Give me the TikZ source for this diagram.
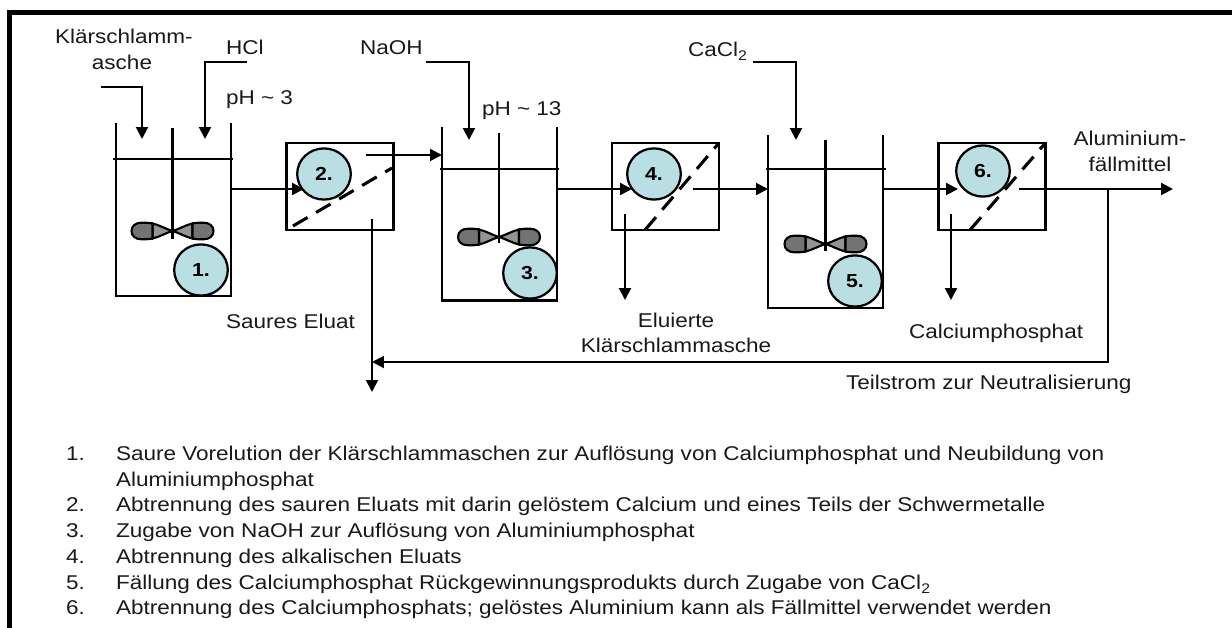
\documentclass[tikz,border=0pt]{standalone}
\usepackage{fontspec}
\setmainfont[FakeStretch=1.13]{Liberation Sans}
\usetikzlibrary{arrows.meta, shapes.geometric, positioning, calc}
\definecolor{stepblue}{HTML}{B9DFE3}

\begin{document}
\begin{tikzpicture}[
    x=0.025cm, y=-0.025cm,
    txt/.style={anchor=base west, inner sep=0pt, outer sep=0pt, text=black!90, font=\fontsize{14.18}{19}\selectfont},
    ctxt/.style={txt, anchor=base},
    tank/.style={rectangle, inner sep=0pt, outer sep=0pt, minimum width=2.875cm, minimum height=4.325cm},
    filter/.style={rectangle, draw=black, line width=1.6pt, inner sep=0pt, outer sep=0pt, minimum width=2.67cm, minimum height=2.175cm},
    stepno/.style={ellipse, draw=black, line width=1.6pt, fill=stepblue, minimum width=1.34cm, minimum height=1.28cm, inner sep=0pt, font=\fontsize{13.4}{15}\selectfont\bfseries},
    wall/.style={line width=1.8pt},
    level/.style={line width=1.2pt},
    membrane/.style={line width=2.2pt, dash pattern=on 12pt off 7pt},
    arrow/.style={line width=1.45pt, -{Triangle[length=8.5pt,width=8.5pt]}},
    blade/.pic={
        \draw[line width=1.5pt, fill=black!42] (0,0) .. controls (-7,-2) and (-13,-6) .. (-20,-7.5) -- (-20,7.5) .. controls (-13,6) and (-7,2) .. (0,0);
        \draw[line width=1.5pt, fill=black!55] (-20,-7.5) .. controls (-24,-8.3) and (-27,-8.3) .. (-31,-8.3) .. controls (-37,-8.3) and (-41,-5) .. (-41,0) .. controls (-41,5) and (-37,8.3) .. (-31,8.3) .. controls (-27,8.3) and (-24,8.3) .. (-20,7.5) -- cycle;
    }
]
\useasboundingbox (0,0) rectangle (1232,628);

% Frame
\coordinate (frame_corner) at (9.8,12.5);
\draw[line width=3.55pt] (1232,12.5) -- (frame_corner) -- (9.8,628);

% Tanks
\node[tank] (tank1) at (173.5,209.5) {};
\node[tank] (tank3) at (499.5,214) {};
\node[tank] (tank5) at (825.5,221.5) {};
\draw[wall] (tank1.north west) -- (tank1.south west) -- (tank1.south east) -- (tank1.north east);
\draw[wall] (tank3.north west) -- (tank3.south west) -- (tank3.south east) -- (tank3.north east);
\draw[wall] (tank5.north west) -- (tank5.south west) -- (tank5.south east) -- (tank5.north east);

% Liquid levels
\draw[level] ($(tank1.west |- 0,159)+(-3,0)$) -- ($(tank1.east |- 0,159)+(2,0)$);
\draw[level] ($(tank3.west |- 0,169)+(-2,0)$) -- ($(tank3.east |- 0,169)+(2,0)$);
\draw[level] ($(tank5.west |- 0,169)+(-2,0)$) -- ($(tank5.east |- 0,169)+(3,0)$);

% Stirrers
\pic at (172.5,231) {blade};
\pic[xscale=-1] at (172.5,231) {blade};
\pic at (499,237) {blade};
\pic[xscale=-1] at (499,237) {blade};
\pic at (825.5,244) {blade};
\pic[xscale=-1] at (825.5,244) {blade};
\draw[wall] (172.5,128) -- (172.5,239);
\draw[wall] (499,133) -- (499,243);
\draw[wall] (825.5,140) -- (825.5,251);

% Filters
\node[filter] (filter2) at (340,186.5) {};
\node[filter] (filter4) at (665.5,186.5) {};
\node[filter] (filter6) at (992,186.5) {};
\coordinate (mem2a) at (293,226);
\coordinate (mem2b) at (392,168);
\coordinate (mem4) at (645,230);
\coordinate (mem6) at (970,230);
\draw[membrane] (mem2a) -- (mem2b);
\draw[membrane] (mem4) -- (filter4.north east);
\draw[membrane] (mem6) -- (filter6.north east);

% Feeds
\node[txt] (sludge) at (55,44) {Klärschlamm-};
\node[ctxt] (sludge2) at (122,70) {asche};
\node[txt] (hcl) at (226,55) {HCl};
\node[txt] (naoh) at (360,55) {NaOH};
\node[txt] (cacl) at (688,57) {CaCl\textsubscript{2}};
\node[txt] (ph3) at (226,105) {pH \textasciitilde{} 3};
\node[txt] (ph13) at (482,116) {pH \textasciitilde{} 13};
\coordinate (sludge_start) at (101,87);
\coordinate (sludge_in) at (142,139);
\coordinate (hcl_start) at (247,62);
\coordinate (hcl_in) at (205,139);
\coordinate (naoh_start) at (426,62);
\coordinate (naoh_in) at (469,140);
\coordinate (cacl_start) at (753,62);
\coordinate (cacl_in) at (796,140);
\draw[arrow] (sludge_start) -| (sludge_in);
\draw[arrow] (hcl_start) -| (hcl_in);
\draw[arrow] (naoh_start) -| (naoh_in);
\draw[arrow] (cacl_start) -| (cacl_in);

% Main flow
\coordinate (in2) at (304,189);
\coordinate (out2) at (366,155);
\coordinate (in4) at (632,189);
\coordinate (out4) at (693,189);
\coordinate (in6) at (958,189);
\coordinate (out6) at (1019,189);
\coordinate (product) at (1173,189);
\coordinate (branch) at (1108,189);
\draw[arrow] (tank1.east |- in2) -- (in2);
\draw[arrow] (out2) -- (tank3.west |- out2);
\draw[arrow] (tank3.east |- in4) -- (in4);
\draw[arrow] (out4) -- (tank5.west |- out4);
\draw[arrow] (tank5.east |- in6) -- (in6);
\draw[arrow] (out6) -- (product);

% Outlets
\coordinate (drain2) at (372,219);
\coordinate (drain2_end) at (372,392);
\coordinate (drain4) at (625,214);
\coordinate (drain4_end) at (625,300);
\coordinate (drain6) at (951,214);
\coordinate (drain6_end) at (951,300);
\coordinate (merge) at (372,362);
\draw[arrow] (drain2) -- (drain2_end);
\draw[arrow] (drain4) -- (drain4_end);
\draw[arrow] (drain6) -- (drain6_end);
\draw[arrow] (branch) |- (merge);

% Step numbers
\node[stepno] (step1) at (201,270) {1.};
\node[stepno] (step2) at (324,174) {2.};
\node[stepno] (step3) at (530,273) {3.};
\node[stepno] (step4) at (654,174) {4.};
\node[stepno] (step5) at (855,281) {5.};
\node[stepno] (step6) at (983,171) {6.};

% Stream labels
\node[txt] (eluat) at (226,329) {Saures Eluat};
\node[ctxt] (residue) at (676,328) {Eluierte};
\node[ctxt] (residue2) at (676,353) {Klärschlammasche};
\node[txt] (caphos) at (909,339) {Calciumphosphat};
\node[ctxt] (alu) at (1130,146) {Aluminium-};
\node[ctxt] (alu2) at (1130,172) {fällmittel};
\node[txt] (partial) at (846,390) {Teilstrom zur Neutralisierung};

% Legend
\node[txt] (no1) at (66,461) {1.};
\node[txt] (item1) at (116,461) {Saure Vorelution der Klärschlammaschen zur Auflösung von Calciumphosphat und Neubildung von};
\node[txt] (item1b) at (116,486.7) {Aluminiumphosphat};
\node[txt] (no2) at (66,512) {2.};
\node[txt] (item2) at (116,512) {Abtrennung des sauren Eluats mit darin gelöstem Calcium und eines Teils der Schwermetalle};
\node[txt] (no3) at (66,538) {3.};
\node[txt] (item3) at (116,538) {Zugabe von NaOH zur Auflösung von Aluminiumphosphat};
\node[txt] (no4) at (66,564) {4.};
\node[txt] (item4) at (116,564) {Abtrennung des alkalischen Eluats};
\node[txt] (no5) at (66,590) {5.};
\node[txt] (item5) at (116,590) {Fällung des Calciumphosphat Rückgewinnungsprodukts durch Zugabe von CaCl\textsubscript{2}};
\node[txt] (no6) at (66,615) {6.};
\node[txt] (item6) at (116,615) {Abtrennung des Calciumphosphats; gelöstes Aluminium kann als Fällmittel verwendet werden};

\end{tikzpicture}
\end{document}
